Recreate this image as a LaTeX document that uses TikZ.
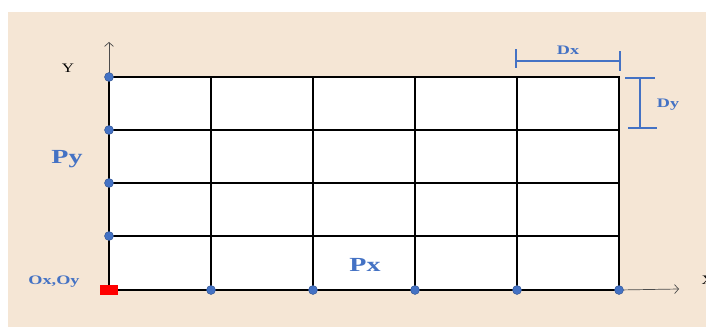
\documentclass[tikz,border=0pt]{standalone}
\usepackage{fontspec}
\setmainfont{Liberation Serif}
\usetikzlibrary{positioning,calc,arrows.meta}
\definecolor{beige}{HTML}{F5E6D5}
\definecolor{oblue}{HTML}{4472C4}
\definecolor{dblue}{HTML}{2F528F}
\tikzset{bdot/.style={draw=dblue,fill=oblue,circle,line width=0.4pt,minimum size=9pt,inner sep=0pt}  }
\tikzset{gridline/.style={draw=black,line width=1.9pt}  }
\tikzset{axis/.style={draw=black!70,line width=0.7pt,-{Straight Barb[length=4pt,width=9pt]}}  }
\tikzset{dimline/.style={draw=oblue,line width=1.8pt}  }
\tikzset{lbl/.style={text=oblue,font=\bfseries,anchor=base,inner sep=0pt,xscale=1.4}  }

\begin{document}
\begin{tikzpicture}[x=1pt,y=1pt]
\useasboundingbox (0,0) rectangle (706,327);
\fill[beige] (8,0) rectangle (706,315);

    % grid points: 5 columns of width Dx, 4 rows of height Dy
    \foreach \i in {0,...,5}
    {
      \foreach \j/\yy in {0/37,1/91,2/144,3/197,4/250}
      {
        \coordinate (g\i\j) at (109+102*\i,\yy);
      }
    }
    \fill[white] (g00) rectangle (g54);
    \foreach \i in {1,...,4}
      \draw[gridline] (g\i0)--(g\i4);
    \foreach \j in {1,...,3}
      \draw[gridline] (g0\j)--(g5\j);
    \draw[gridline] (g00) rectangle (g54);

    % axes
    \coordinate (ytip) at (109,285);
    \coordinate (xtip) at (679,38);
    \draw[axis] (g04)--(ytip);
    \draw[axis] (g50)--(xtip);
    \node[anchor=base,font=\fontsize{13}{13}\selectfont,xscale=1.3] (ylab) at (68,254) {Y};
    \node[anchor=base west,font=\fontsize{13}{13}\selectfont,xscale=1.3] (xlab) at (697,43) {X};

    % points
    \foreach \j in {1,...,4}
      \coordinate[bdot] (py\j) at (g0\j);
    \foreach \i in {1,...,5}
      \coordinate[bdot] (px\i) at (g\i0);
    \node[fill=red,minimum width=18pt,minimum height=10pt,inner sep=0pt] (orig) at (g00) {};

    % step sizes
    \coordinate (dxl) at (516,266);
    \coordinate (dxr) at (620,266);
    \draw[dimline,line width=1.4pt] (dxl)--(dxr);
    \draw[dimline] ($(dxl)+(0,-7)$)--($(dxl)+(0,12)$);
    \draw[dimline] ($(dxr)+(0,-10)$)--($(dxr)+(0,10)$);
    \coordinate (dyt) at (640,249);
    \coordinate (dyb) at (640,199);
    \draw[dimline] (dyt)--(dyb);
    \draw[dimline,line width=2.2pt] ($(dyt)+(-15,0)$)--($(dyt)+(15,0)$);
    \draw[dimline,line width=2.2pt] ($(dyb)+(-12,0)$)--($(dyb)+(17,0)$);

    \node[lbl,font=\bfseries\fontsize{13}{13}\selectfont] (dx) at (568,272) {Dx};
    \node[lbl,font=\bfseries\fontsize{13}{13}\selectfont] (dy) at (668,219) {Dy};
    \node[lbl,font=\bfseries\fontsize{20}{20}\selectfont] (pylab) at (67,164) {Py};
    \node[lbl,font=\bfseries\fontsize{20}{20}\selectfont] (pxlab) at (365,56) {Px};
    \node[lbl,font=\bfseries\fontsize{13}{13}\selectfont] (olab) at (54,43) {Ox,Oy};
\end{tikzpicture}
\end{document}
